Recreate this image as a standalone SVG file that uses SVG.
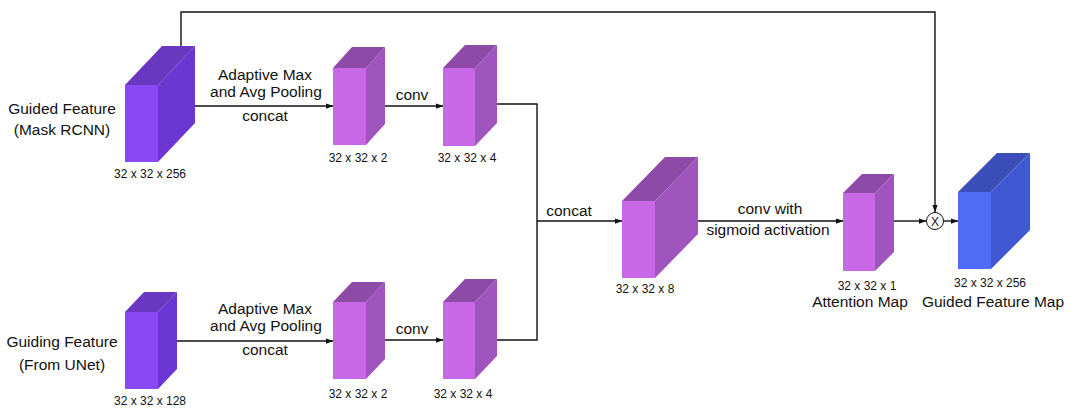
<svg xmlns="http://www.w3.org/2000/svg" width="1080" height="408" viewBox="0 0 1080 408">
  <style>
    text { font-family: "Liberation Sans", Arial, sans-serif; fill: #111; text-anchor: middle; }
    .lbl { font-size: 15.5px; }
    .dim { font-size: 12px; }
    .line { fill: none; stroke: #111; stroke-width: 1.4; }
    .pf { fill: #c868e6; } .ps { fill: #a055be; } .pt { fill: #8d4aa6; }
    .vf { fill: #8a47f4; } .vs { fill: #6c36d2; } .vt { fill: #6a38c0; }
    .bf { fill: #4f6cf6; } .bs { fill: #4058d2; } .bt { fill: #3a4db8; }
  </style>
  <defs>
    <marker id="arr" markerUnits="userSpaceOnUse" markerWidth="8" markerHeight="8" viewBox="0 0 8 8" refX="7.5" refY="4" orient="auto">
      <path d="M0 1.2 L8 4 L0 6.8 Z" fill="#111"/>
    </marker>
  </defs>

  <rect width="1080" height="408" fill="#ffffff"/>

  <!-- connectors -->
  <g id="connectors">
    <path class="line" d="M181 46 V12 H935 V212" marker-end="url(#arr)"/>
    <path class="line" d="M195 106 H333" marker-end="url(#arr)"/>
    <path class="line" d="M385 106 H443" marker-end="url(#arr)"/>
    <path class="line" d="M497 104 H537 V340 H497"/>
    <path class="line" d="M537 221 H622" marker-end="url(#arr)"/>
    <path class="line" d="M698 221 H843" marker-end="url(#arr)"/>
    <path class="line" d="M894 221 H926" marker-end="url(#arr)"/>
    <path class="line" d="M943 221 H958" marker-end="url(#arr)"/>
    <path class="line" d="M177 341 H333" marker-end="url(#arr)"/>
    <path class="line" d="M385 340 H443" marker-end="url(#arr)"/>
    <text class="lbl" x="265" y="80">Adaptive Max</text>
    <text class="lbl" x="266" y="97">and Avg Pooling</text>
    <text class="lbl" x="265" y="121">concat</text>
    <text class="lbl" x="412" y="100">conv</text>
    <text class="lbl" x="265" y="314">Adaptive Max</text>
    <text class="lbl" x="266" y="331">and Avg Pooling</text>
    <text class="lbl" x="265" y="355">concat</text>
    <text class="lbl" x="412" y="334">conv</text>
    <text class="lbl" x="569" y="216">concat</text>
    <text class="lbl" x="770" y="214">conv with</text>
    <text class="lbl" x="768" y="235">sigmoid activation</text>
  </g>

  <!-- guided feature input -->
  <g id="guided-feature">
    <polygon class="vf" points="125,85 158,85 158,162 125,162"/>
    <polygon class="vt" points="125,85 162,46 195,46 158,85"/>
    <polygon class="vs" points="158,85 195,46 195,123 158,162"/>
    <text class="lbl" x="62" y="114">Guided Feature</text>
    <text class="lbl" x="62" y="135">(Mask RCNN)</text>
    <text class="dim" x="150" y="178">32 x 32 x 256</text>
  </g>

  <!-- guiding feature input -->
  <g id="guiding-feature">
    <polygon class="vf" points="125,312 158,312 158,389 125,389"/>
    <polygon class="vt" points="125,312 144,292 177,292 158,312"/>
    <polygon class="vs" points="158,312 177,292 177,369 158,389"/>
    <text class="lbl" x="62" y="347">Guiding Feature</text>
    <text class="lbl" x="62" y="370">(From UNet)</text>
    <text class="dim" x="150" y="405">32 x 32 x 128</text>
  </g>

  <!-- pooled guided -->
  <g id="pool-top">
    <polygon class="pf" points="333,68 366,68 366,145 333,145"/>
    <polygon class="pt" points="333,68 352,47 385,47 366,68"/>
    <polygon class="ps" points="366,68 385,47 385,124 366,145"/>
    <text class="dim" x="358" y="162">32 x 32 x 2</text>
  </g>

  <g id="conv-top">
    <polygon class="pf" points="443,68 475,68 475,146 443,146"/>
    <polygon class="pt" points="443,68 465,45 497,45 475,68"/>
    <polygon class="ps" points="475,68 497,45 497,123 475,146"/>
    <text class="dim" x="467" y="162">32 x 32 x 4</text>
  </g>

  <!-- pooled guiding -->
  <g id="pool-bottom">
    <polygon class="pf" points="333,302 366,302 366,379 333,379"/>
    <polygon class="pt" points="333,302 352,282 385,282 366,302"/>
    <polygon class="ps" points="366,302 385,282 385,359 366,379"/>
    <text class="dim" x="358" y="398">32 x 32 x 2</text>
  </g>

  <g id="conv-bottom">
    <polygon class="pf" points="443,302 475,302 475,379 443,379"/>
    <polygon class="pt" points="443,302 465,279 497,279 475,302"/>
    <polygon class="ps" points="475,302 497,279 497,356 475,379"/>
    <text class="dim" x="463" y="398">32 x 32 x 4</text>
  </g>

  <!-- merged -->
  <g id="concat-block">
    <polygon class="pf" points="622,201 655,201 655,278 622,278"/>
    <polygon class="pt" points="622,201 665,157 698,157 655,201"/>
    <polygon class="ps" points="655,201 698,157 698,234 655,278"/>
    <text class="dim" x="645" y="293">32 x 32 x 8</text>
  </g>

  <g id="attention-map">
    <polygon class="pf" points="843,193 875,193 875,271 843,271"/>
    <polygon class="pt" points="843,193 862,174 894,174 875,193"/>
    <polygon class="ps" points="875,193 894,174 894,252 875,271"/>
    <text class="dim" x="867" y="290">32 x 32 x 1</text>
    <text class="lbl" x="860" y="307">Attention Map</text>
  </g>

  <g id="multiply">
    <circle cx="935" cy="221" r="8.5" fill="#fff" stroke="#111" stroke-width="1"/>
    <text x="935" y="225.5" style="font-size:12px">X</text>
  </g>

  <g id="guided-feature-map">
    <polygon class="bf" points="958,192 991,192 991,269 958,269"/>
    <polygon class="bt" points="958,192 997,153 1030,153 991,192"/>
    <polygon class="bs" points="991,192 1030,153 1030,230 991,269"/>
    <text class="dim" x="990" y="287">32 x 32 x 256</text>
    <text class="lbl" x="993" y="307">Guided Feature Map</text>
  </g>
</svg>
